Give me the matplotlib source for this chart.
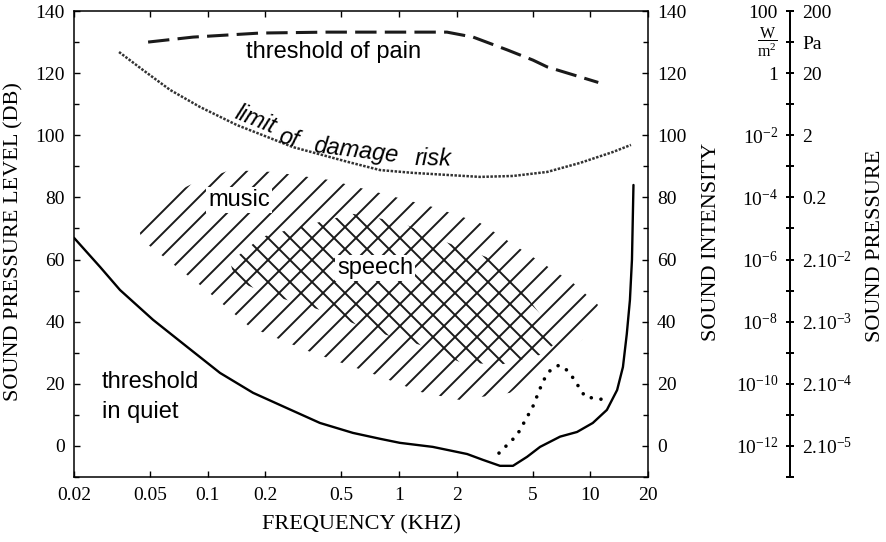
# hearing area: threshold in quiet, music / speech areas, pain threshold
import matplotlib
matplotlib.use("Agg")
import matplotlib.pyplot as plt
import numpy as np
from matplotlib.patches import Polygon
from matplotlib.collections import LineCollection
from matplotlib.ticker import NullLocator

plt.rcParams["font.family"] = "Liberation Serif"
plt.rcParams["mathtext.fontset"] = "custom"
plt.rcParams["mathtext.rm"] = "Liberation Serif"
plt.rcParams["mathtext.it"] = "Liberation Serif:italic"
plt.rcParams["mathtext.bf"] = "Liberation Serif:bold"

# curves (frequency in kHz, level in dB)
quiet_f = [0.02, 0.0274, 0.0348, 0.0518, 0.078, 0.116, 0.1726, 0.259, 0.386, 0.574, 0.796,
           1.01, 1.5, 2.27, 2.75, 3.37, 3.94, 4.67, 5.46, 6.95, 8.52, 10.3, 12.2, 13.8,
           14.8, 15.5, 16.1, 16.5, 16.8]
quiet_db = [67, 57.6, 50.2, 40.6, 31.9, 23.5, 17.1, 12.2, 7.4, 4.2, 2.3,
            1.0, -0.3, -2.6, -4.5, -6.4, -6.4, -3.5, -0.3, 3, 4.5, 7.4, 11.6, 18,
            25.4, 36, 47, 60, 84]

loss_f = [3.33, 4.14, 5.0, 5.67, 6.2, 6.86, 7.5, 8.1, 9.4, 11.5]
loss_db = [-2.3, 3.5, 12.6, 21, 24.5, 26, 24.5, 22, 15.8, 15]

pain_f = [0.0488, 0.0838, 0.1875, 0.42, 0.8, 1.78, 2.44, 3.67, 5.01, 5.95, 11]
pain_db = [130, 131.6, 132.9, 133.2, 133.2, 133.2, 131.6, 127.5, 124.2, 122, 117]

damage_f = [0.0344, 0.0459, 0.0636, 0.0912, 0.142, 0.204, 0.279, 0.4, 0.55, 0.796, 1.18,
            2.65, 3.94, 5.95, 8.83, 13.1, 16.3]
damage_db = [126.8, 121, 114.6, 109.1, 103.3, 99.5, 96.2, 93.6, 91.3, 88.8, 87.9,
             86.6, 86.9, 88.2, 91.1, 94.6, 96.9]

# outline of the music area
music_f = [0.0426, 0.0563, 0.0807, 0.1307, 0.219, 0.435, 0.796, 1.505, 2.65, 5.01, 8.11,
           10.97, 9.05, 5.80, 3.80, 2.08, 1.29, 0.731, 0.343, 0.166, 0.0912, 0.0453]
music_db = [72.1, 79.2, 84.0, 88.8, 88.2, 85.6, 81.4, 76.9, 71.8, 60.8, 52.5,
            45.4, 34.1, 26.1, 17.1, 14.8, 17.4, 23.2, 30.3, 38.3, 51.8, 66.3]

# outline of the speech area
speech_f = [0.131, 0.192, 0.303, 0.574, 1.01, 1.64, 3.37, 6.94,
            5.46, 3.37, 2.08, 1.29, 0.705, 0.386, 0.212, 0.139]
speech_db = [59.2, 67.3, 70.5, 74.7, 72.1, 66.3, 59.2, 34.1,
             29.3, 26.1, 27.0, 32.5, 37.3, 43.8, 48.6, 53.4]

xticks = [0.02, 0.05, 0.1, 0.2, 0.5, 1, 2, 5, 10, 20]
xtick_labels = ["0.02", "0.05", "0.1", "0.2", "0.5", "1", "2", "5", "10", "20"]

# third axis: intensity (W/m2) and pressure (Pa), one label per 10 dB
side_db = list(range(-10, 141, 10))
intensity_labels = ["", "10$^{-12}$", "", "10$^{-10}$", "", "10$^{-8}$", "", "10$^{-6}$", "",
                    "10$^{-4}$", "", "10$^{-2}$", "", "1", r"$\dfrac{\mathrm{W}}{\mathrm{m}^2}$", "100"]
pressure_labels = ["", "2.10$^{-5}$", "", "2.10$^{-4}$", "", "2.10$^{-3}$", "", "2.10$^{-2}$", "",
                   "0.2", "", "2", "", "20", "Pa", "200"]

W, H = 8.87, 5.42
fig = plt.figure(figsize=(W, H), dpi=100)
ax = fig.add_axes([0.0834, 0.1199, 0.6471, 0.8598])
ax.set_xscale("log")
ax.set_xlim(0.02, 20)
ax.set_ylim(-10, 140)


def hatch(outline_f, outline_db, rising, step=0.22):
    # parallel 45 degree strokes (in inches) clipped to an outline in data coords
    clip = Polygon(np.column_stack([outline_f, outline_db]), closed=True,
                   transform=ax.transData)
    segs = []
    for c in np.arange(-H, W + H, step):
        if rising:
            segs.append([(c, 0), (c + H, H)])
        else:
            segs.append([(c, H), (c + H, 0)])
    lc = LineCollection(segs, colors="#1a1a1a", linewidths=1.4,
                        transform=fig.dpi_scale_trans)
    ax.add_collection(lc, autolim=False)
    lc.set_clip_path(clip)


hatch(music_f, music_db, True)
hatch(speech_f, speech_db, False)

ax.plot(quiet_f, quiet_db, color="black", lw=1.7, solid_capstyle="round")
ax.plot(loss_f, loss_db, color="black", lw=2.6, linestyle=(0, (0.01, 2.7)),
        dash_capstyle="round")
ax.plot(pain_f, pain_db, color="#1a1a1a", lw=2.2, linestyle=(0, (7, 2.7)))
ax.plot(damage_f, damage_db, color="#333333", lw=1.8, linestyle=(0, (1, 0.6)))

sans = "Liberation Sans"
clear = dict(facecolor="white", edgecolor="none", pad=1.5)
ax.text(0.457, 126.8, "threshold of pain", family=sans, fontsize=17, ha="center", va="center")
ax.text(0.1457, 79.2, "music", family=sans, fontsize=17, ha="center", va="center", bbox=clear)
ax.text(0.749, 57.3, "speech", family=sans, fontsize=17, ha="center", va="center", bbox=clear)
ax.text(0.028, 20.6, "threshold", family=sans, fontsize=17, ha="left", va="center")
ax.text(0.028, 10.9, "in quiet", family=sans, fontsize=17, ha="left", va="center")
ax.text(0.1786, 104.9, "limit", family=sans, style="italic", fontsize=17,
        ha="center", va="center", rotation=-22)
ax.text(0.263, 99.1, "of", family=sans, style="italic", fontsize=17,
        ha="center", va="center", rotation=-16)
ax.text(0.596, 94.9, "damage", family=sans, style="italic", fontsize=17,
        ha="center", va="center", rotation=-7)
ax.text(1.505, 92.4, "risk", family=sans, style="italic", fontsize=17,
        ha="center", va="center", rotation=-1)

# extra scale on the far right
ax3 = ax.twinx()
ax4 = ax.twinx()
for a, side, labels in [(ax3, "left", intensity_labels), (ax4, "right", pressure_labels)]:
    for s in a.spines.values():
        s.set_visible(False)
    a.spines[side].set_visible(True)
    a.spines[side].set_position(("axes", 1.2474))
    a.spines[side].set_linewidth(1.3)
    a.set_ylim(-10, 140)
    a.yaxis.set_ticks_position(side)
    a.set_yticks(side_db)
    a.set_yticklabels(labels)
    a.tick_params(axis="y", direction="inout", length=6, width=1.3, pad=5.6, labelsize=14)

# the W/m2 fraction sits between "100" and "1", keep it a bit smaller
unit_label = ax3.get_yticklabels()[side_db.index(130)]
unit_label.set_fontsize(11.5)
unit_label.set_va("center")

ax.set_xticks(xticks)
ax.set_xticklabels(xtick_labels)
ax.xaxis.set_minor_locator(NullLocator())
ax.set_yticks(range(0, 141, 20))
ax.set_yticks(range(-10, 141, 20), minor=True)
ax.tick_params(axis="x", which="both", direction="in", top=True, bottom=True,
               length=4.5, width=1, pad=7, labelsize=14)
ax.tick_params(axis="y", which="major", direction="in", left=True, right=True,
               labelleft=True, labelright=True, length=4.5, width=1, pad=6.5, labelsize=14)
ax.tick_params(axis="y", which="minor", direction="in", left=True, right=True,
               length=3.5, width=1)
for s in ax.spines.values():
    s.set_linewidth(1.1)

fig.text(0.016, 0.555, "SOUND PRESSURE LEVEL (DB)", rotation=90, ha="center", va="center", fontsize=16)
fig.text(0.407, 0.031, "FREQUENCY (KHZ)", ha="center", va="center", fontsize=16)
fig.text(0.8027, 0.553, "SOUND INTENSITY", rotation=90, ha="center", va="center", fontsize=16)
fig.text(0.9865, 0.546, "SOUND PRESSURE", rotation=90, ha="center", va="center", fontsize=16)

fig.savefig("out.png", dpi=100)
